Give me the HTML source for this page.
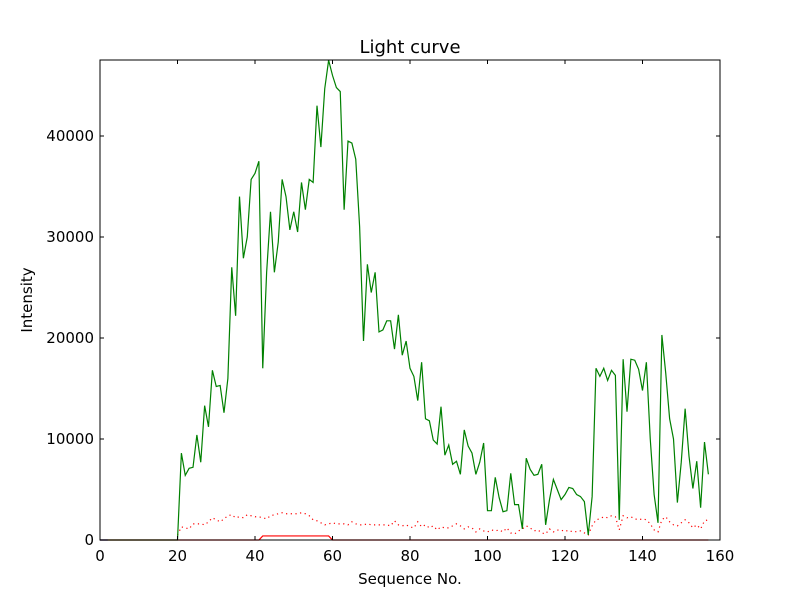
<!DOCTYPE html>
<html><head><meta charset="utf-8"><style>
body{margin:0;background:#fff;}
svg text{font-family:"DejaVu Sans","Liberation Sans",sans-serif;}
</style></head><body>
<svg id="chart" width="800" height="600" viewBox="0 0 800 600"></svg>
<script>
const xTicks=[0,20,40,60,80,100,120,140,160];
const yTicks=[0,10000,20000,30000,40000];
const yTickLabels=["0","10000","20000","30000","40000"];
const greenValues=[0,0,0,0,0,0,0,0,0,0,0,0,0,0,0,0,0,0,0,0,0,
8600,6400,7100,7200,10400,7700,13300,11200,16800,15200,15300,12600,16000,27000,22200,34000,27900,30000,35700,36300,37500,17000,26500,32500,26500,29500,35700,34000,30700,32500,30500,35400,32700,35700,35400,43000,38900,44700,47500,46000,44800,44400,32700,39500,39300,37700,31000,19700,27300,24500,26500,20600,20800,21700,21700,18900,22300,18300,19700,17000,16200,13800,17600,12000,11800,9900,9500,13200,8400,9400,7500,7800,6500,10900,9300,8600,6500,7700,9600,2900,2900,6200,4200,2800,2900,6600,3500,3500,1100,8100,7000,6400,6500,7500,1500,4000,6000,5000,4000,4500,5200,5100,4500,4300,3800,500,4300,17000,16200,17000,15800,16800,16300,2000,17900,12700,17900,17800,16900,14800,17600,10000,4500,1700,20300,16500,12000,10000,3700,7700,13000,8300,5100,7800,3200,9700,6500];
const redDottedValues=[null,null,null,null,null,null,null,null,null,null,null,null,null,null,null,null,null,null,null,null,500,
1300,1200,1100,1600,1600,1600,1500,1800,2200,2000,1800,2100,2400,2500,2200,2300,2200,2500,2400,2300,2300,2200,2100,2400,2500,2600,2700,2600,2600,2600,2600,2700,2600,2400,2000,1900,1700,1500,1600,1700,1600,1600,1600,1500,1800,1600,1500,1500,1600,1500,1500,1500,1500,1500,1400,1900,1500,1400,1500,1300,1200,1800,1300,1500,1200,1400,1000,1300,1200,1200,1400,1600,1400,1100,1300,1200,800,1100,900,800,1000,900,1000,800,1200,700,600,900,1100,1400,1200,900,1000,700,600,1100,800,1000,900,1000,800,900,800,900,700,500,1400,2000,2100,2300,2200,2400,2300,1000,2400,2200,2300,2100,2000,2100,2000,1600,1000,800,2000,2300,1800,1500,1400,1700,2000,1700,1200,1500,1100,1900,2000];
const redSolidValues=[];for(let i=0;i<158;i++){redSolidValues.push(i>=42&&i<=59?400:0);}
const blueValues=[0,0,0];

const L=100,R=720,T=60,B=540,XMAX=160,YMAX=47524;
const sx=v=>L+(v/XMAX)*(R-L);
const sy=v=>B-(v/YMAX)*(B-T);
const svg=document.getElementById('chart');
const NS='http://www.w3.org/2000/svg';
function mk(tag,attrs,parent){const e=document.createElementNS(NS,tag);for(const k in attrs)e.setAttribute(k,attrs[k]);(parent||svg).appendChild(e);return e;}
function path(vals,color,dash,name){let d='';let pen=false;vals.forEach((v,i)=>{if(v===null){pen=false;return;}d+=(pen?'L':'M')+sx(i).toFixed(2)+' '+sy(v).toFixed(2);pen=true;});
const p=mk('path',{d:d,fill:'none',stroke:color,'stroke-width':1.2});if(dash)p.setAttribute('stroke-dasharray',dash);

}
path(redSolidValues,'#ff0000',null,'red-solid-series');
path(redDottedValues,'#ff0000','1.2,3.5','red-dotted-series');
path(greenValues,'#008000',null,'green-series');
path(blueValues,'#0000ff',null,'blue-series');
const frame=mk('rect',{x:L,y:T,width:R-L,height:B-T,fill:'none',stroke:'#000','stroke-width':1});


xTicks.forEach(t=>{const x=sx(t);mk('line',{x1:x,y1:B,x2:x,y2:B-4,stroke:'#000'});mk('line',{x1:x,y1:T,x2:x,y2:T+4,stroke:'#000'});
const tx=mk('text',{x:x,y:B+21,'text-anchor':'middle','font-size':15});tx.textContent=t;

});
yTicks.forEach((t,i)=>{const y=sy(t);mk('line',{x1:L,y1:y,x2:L+4,y2:y,stroke:'#000'});mk('line',{x1:R,y1:y,x2:R-4,y2:y,stroke:'#000'});
const tx=mk('text',{x:L-6,y:y+5,'text-anchor':'end','font-size':15});tx.textContent=yTickLabels[i];

});
const title=mk('text',{x:410,y:53,'text-anchor':'middle','font-size':18});title.textContent='Light curve';


const xl=mk('text',{x:410,y:584,'text-anchor':'middle','font-size':15});xl.textContent='Sequence No.';


const yl=mk('text',{x:32,y:300,'text-anchor':'middle','font-size':15,transform:'rotate(-90 32 300)'});yl.textContent='Intensity';


</script>
</body></html>
